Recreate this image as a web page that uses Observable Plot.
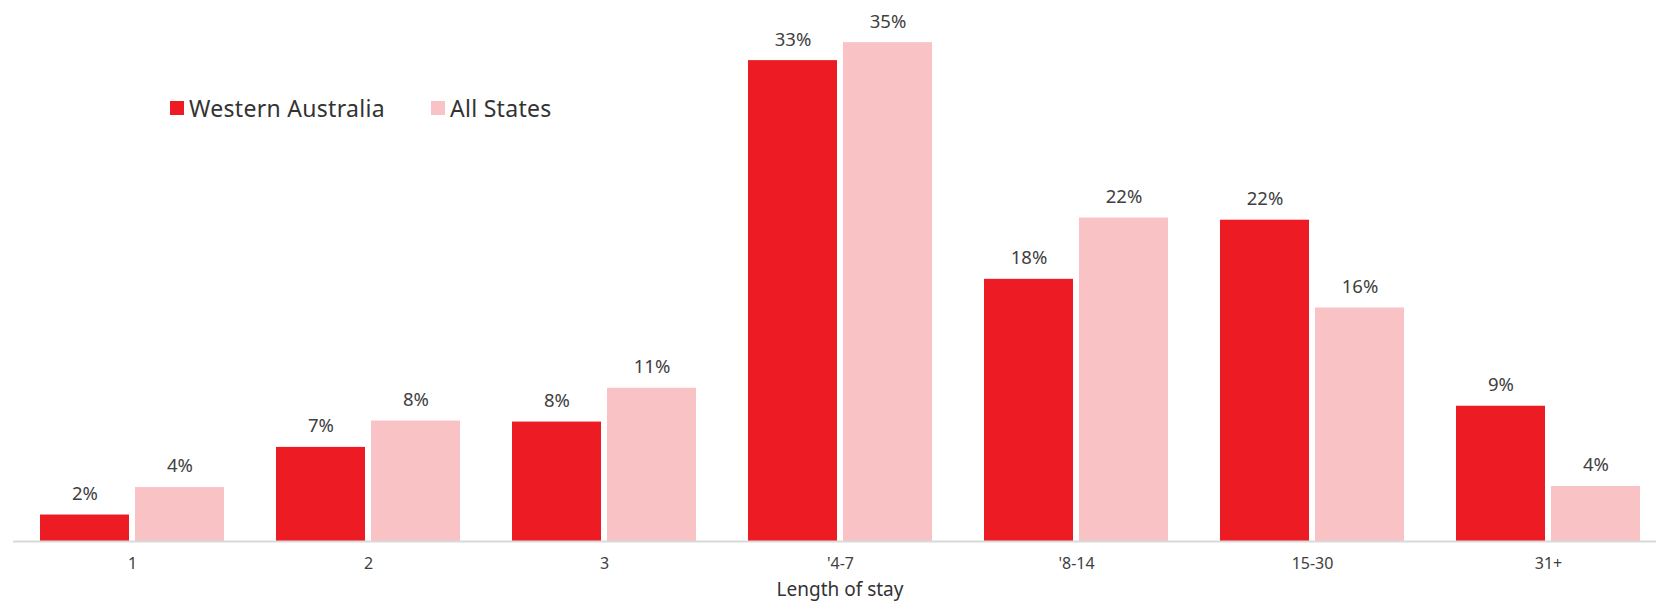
<!DOCTYPE html>
<html>
<head>
<meta charset="utf-8">
<script src="https://cdn.jsdelivr.net/npm/d3@7"></script>
<script src="https://cdn.jsdelivr.net/npm/@observablehq/plot@0.6"></script>
<style>
  html, body { margin: 0; padding: 0; background: #fff; }
  #wrap { position: relative; width: 1656px; height: 601px; font-family: "Noto Sans", sans-serif; }
  .legend { position: absolute; top: 92px; left: 170px; display: flex; align-items: center; font-size: 23px; color: #333; letter-spacing: 0.3px; }
  .legend .item { display: flex; align-items: center; margin-right: 46px; }
  .legend .sw { width: 14px; height: 14px; margin-right: 5px; }
</style>
</head>
<body>
<div id="wrap"></div>
<script>
const categories = ["1", "2", "3", "'4-7", "'8-14", "15-30", "31+"];
const seriesNames = ["Western Australia", "All States"];
const westernAustralia = [1.84, 6.54, 8.30, 33.42, 18.22, 22.33, 9.40];
const allStates = [3.75, 8.37, 10.65, 34.67, 22.48, 16.23, 3.82];
const axisTitle = "Length of stay";
const colors = ["#ED1C24", "#F9C2C5"];

const wa = categories.map((c, i) => ({category: c, value: westernAustralia[i]}));
const as = categories.map((c, i) => ({category: c, value: allStates[i]}));
const fmt = v => Math.round(v) + "%";

const chart = Plot.plot({
  width: 1656,
  height: 601,
  marginTop: 23,
  marginBottom: 60,
  marginLeft: 13,
  marginRight: 0,
  style: {fontFamily: "Noto Sans, sans-serif", fontSize: "16px", color: "#404040", background: "#fff"},
  x: {domain: categories, range: [13, 1667], paddingInner: 0.22, paddingOuter: 0.114, label: null},
  y: {domain: [0, 36], axis: null},
  marks: [
    Plot.barY(wa, {x: "category", y: "value", fill: colors[0], insetRight: 95}),
    Plot.barY(as, {x: "category", y: "value", fill: colors[1], insetLeft: 95}),
    Plot.text(wa, {x: "category", y: "value", text: d => fmt(d.value), dx: -47.5, dy: -21, fill: "#404040", fontSize: 18.5}),
    Plot.text(as, {x: "category", y: "value", text: d => fmt(d.value), dx: 47.5, dy: -21, fill: "#404040", fontSize: 18.5}),
    Plot.ruleY([0], {stroke: "#d9d9d9", strokeWidth: 2}),
    Plot.axisX({tickSize: 0, tickPadding: 16, fontSize: 16, fill: "#404040", label: null}),
    Plot.text([axisTitle], {frameAnchor: "bottom", dx: 5, dy: 54, fontSize: 19, fill: "#333"})
  ]
});
const wrap = document.getElementById("wrap");
wrap.appendChild(chart);

const legend = document.createElement("div");
legend.className = "legend";
seriesNames.forEach((n, i) => {
  const item = document.createElement("div");
  item.className = "item";
  const sw = document.createElement("span");
  sw.className = "sw";
  sw.style.background = colors[i];
  const t = document.createElement("span");
  t.textContent = n;
  item.appendChild(sw); item.appendChild(t);
  legend.appendChild(item);
});
wrap.appendChild(legend);
</script>
</body>
</html>
